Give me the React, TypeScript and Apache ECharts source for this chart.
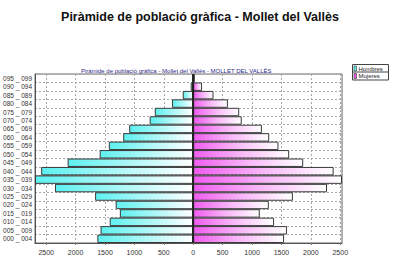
import React, { useEffect, useRef } from "react";
import * as echarts from "echarts";

const ageGroups = [
  "000 _ 004", "005 _ 009", "010 _ 014", "015 _ 019", "020 _ 024",
  "025 _ 029", "030 _ 034", "035 _ 039", "040 _ 044", "045 _ 049",
  "050 _ 054", "055 _ 059", "060 _ 064", "065 _ 069", "070 _ 074",
  "075 _ 079", "080 _ 084", "085 _ 089", "090 _ 094", "095 _ 099",
];
const hombres = [
  1630, 1575, 1420, 1247, 1318, 1668, 2350, 2690, 2585, 2135,
  1590, 1435, 1190, 1088, 740, 653, 360, 178, 42, 8,
];
const mujeres = [
  1545, 1594, 1375, 1132, 1285, 1695, 2275, 2530, 2388, 1870,
  1632, 1450, 1292, 1168, 825, 782, 590, 345, 150, 28,
];
const legendNames = ["Hombres", "Mujeres"];
const mainTitle = "Piràmide de població gràfica - Mollet del Vallès";
const subTitle = "Piràmide de població gràfica - Mollet del Vallès - MOLLET DEL VALLÈS";

export default function App() {
  const ref = useRef<HTMLDivElement>(null);
  useEffect(() => {
    if (!ref.current) return;
    const chart = echarts.init(ref.current, null, { renderer: "svg" });
    const maxM = Math.max(...hombres);
    const maxF = Math.max(...mujeres);
    const font = "'Liberation Sans', Arial, sans-serif";
    chart.setOption({
      animation: false,
      backgroundColor: "#ffffff",
      title: [
        {
          text: mainTitle,
          left: "center",
          top: 5,
          textStyle: { fontFamily: font, fontSize: 12.5, fontWeight: "bold", color: "#111111" },
        },
        {
          text: subTitle,
          left: 76,
          top: 63,
          textStyle: { fontFamily: font, fontSize: 6, fontWeight: "normal", color: "#2a2a8a" },
        },
      ],
      grid: {
        left: 35,
        right: 58,
        top: 74,
        bottom: 28,
        show: true,
        borderColor: "#6a6a6a",
        borderWidth: 1,
        backgroundColor: "#ffffff",
      },
      xAxis: {
        type: "value",
        min: -maxM,
        max: maxF,
        splitNumber: 10,
        minInterval: 500,
        maxInterval: 500,
        axisLine: { show: true, lineStyle: { color: "#555555", width: 1 } },
        axisTick: { show: true, length: 2, lineStyle: { color: "#777777" } },
        axisLabel: {
          showMinLabel: false,
          showMaxLabel: false,
          fontFamily: font,
          fontSize: 7,
          color: "#333333",
          margin: 6,
          formatter: (v: number) => String(Math.abs(v)),
        },
        splitLine: { show: true, lineStyle: { color: "#a8a8a8", type: [2, 2], width: 1 } },
      },
      yAxis: {
        type: "category",
        data: ageGroups,
        axisLine: { show: true, onZero: false, lineStyle: { color: "#555555" } },
        axisTick: { show: false },
        axisLabel: { interval: 0, fontFamily: font, fontSize: 6.5, color: "#333333", margin: 3 },
        splitLine: { show: true, interval: 0, lineStyle: { color: "#a8a8a8", type: [2, 2], width: 1 } },
      },
      series: [
        {
          name: legendNames[0],
          type: "bar",
          data: hombres.map((v) => -v),
          barWidth: "100%",
          barGap: "-100%",
          itemStyle: {
            color: new echarts.graphic.LinearGradient(0, 0, 1, 0, [
              { offset: 0, color: "#5ef0f0" },
              { offset: 0.55, color: "#b8f8f8" },
              { offset: 1, color: "#ffffff" },
            ]),
            borderColor: "#3a3a3a",
            borderWidth: 1,
          },
        },
        {
          name: legendNames[1],
          type: "bar",
          data: mujeres,
          barWidth: "100%",
          barGap: "-100%",
          itemStyle: {
            color: new echarts.graphic.LinearGradient(0, 0, 1, 0, [
              { offset: 0, color: "#f05cf0" },
              { offset: 0.5, color: "#f8b8f8" },
              { offset: 1, color: "#ffffff" },
            ]),
            borderColor: "#3a3a3a",
            borderWidth: 1,
          },
          markLine: {
            silent: true,
            symbol: "none",
            label: { show: false },
            lineStyle: { color: "#111111", type: "solid", width: 1.5 },
            data: [{ xAxis: 0 }],
          },
        },
      ],
      graphic: [
        {
          type: "group",
          left: 352,
          top: 64,
          children: [
            { type: "rect", shape: { x: 0, y: 0, width: 36, height: 8 }, style: { fill: "#ffffff", stroke: "#444444", lineWidth: 1 } },
            { type: "rect", shape: { x: 1.5, y: 1.5, width: 2.5, height: 5 }, style: { fill: "#5ef0f0", stroke: "#333333", lineWidth: 0.6 } },
            { type: "text", style: { x: 6, y: 4.2, text: legendNames[0], fontFamily: font, fontSize: 6, fill: "#222222", verticalAlign: "middle" } },
            { type: "rect", shape: { x: 0, y: 7.5, width: 36, height: 8 }, style: { fill: "#ffffff", stroke: "#444444", lineWidth: 1 } },
            { type: "rect", shape: { x: 1.5, y: 9, width: 2.5, height: 5 }, style: { fill: "#f05cf0", stroke: "#333333", lineWidth: 0.6 } },
            { type: "text", style: { x: 6, y: 11.7, text: legendNames[1], fontFamily: font, fontSize: 6, fill: "#222222", verticalAlign: "middle" } },
          ],
        },
      ],
    });
    return () => chart.dispose();
  }, []);
  return (
    <div
      ref={ref}
      style={{ position: "fixed", left: 0, top: 0, width: 400, height: 271, background: "#fff" }}
    />
  );
}
